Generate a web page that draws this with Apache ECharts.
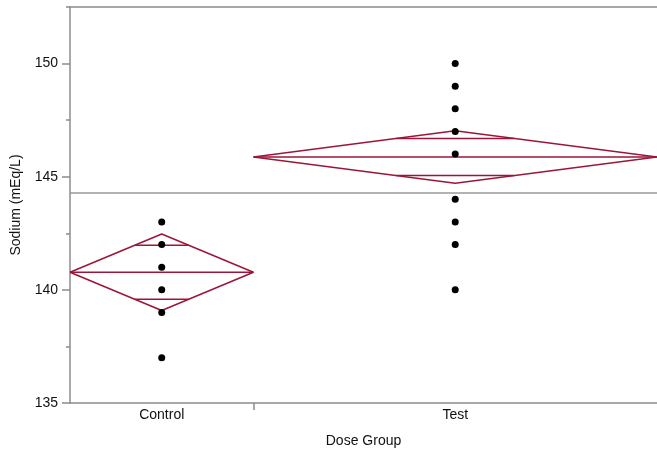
<!DOCTYPE html>
<html>
<head>
<meta charset="utf-8">
<script src="https://cdn.jsdelivr.net/npm/echarts@6/dist/echarts.min.js"></script>
<style>html,body{margin:0;padding:0;background:#fff}#c{width:657px;height:463px}</style>
</head>
<body>
<div id="c"></div>
<script>
// ---- data ----
const groups = ['Control', 'Test'];
const groupN = [10, 22];               // relative diamond widths (sample sizes)
const groupMean = [140.78, 145.87];
const groupCIHalf = [1.69, 1.16];      // 95% CI half-widths (diamond half-heights)
const grandMean = 144.28;
const controlValues = [143, 142, 141, 140, 139, 137];
const testValues = [150, 149, 148, 147, 146, 144, 143, 142, 140];
const groupValues = [controlValues, testValues];
const yMajorTicks = [135, 140, 145, 150];
const yMinorTicks = [137.5, 142.5, 147.5, 152.5];
const yMin = 135, yMax = 152.5;

// ---- build series ----
const RED = '#9b1638';
const GRAY = '#8c8c8c';
const font = 'Liberation Sans, Arial, Helvetica, sans-serif';
const totalN = groupN.reduce((a, b) => a + b, 0);
const starts = [];
let acc = 0;
groupN.forEach(n => { starts.push(acc); acc += n; });
const centers = groupN.map((n, i) => starts[i] + n / 2);

const series = [];
function line(data, color, width) {
  series.push({
    type: 'line', data: data, symbol: 'none', silent: true,
    lineStyle: { color: color, width: width }, animation: false, z: 3
  });
}
// grand mean line
line([[0, grandMean], [totalN, grandMean]], '#999999', 1.5);
groups.forEach((g, i) => {
  const x0 = starts[i], x1 = starts[i] + groupN[i], xc = centers[i];
  const m = groupMean[i], h = groupCIHalf[i];
  // diamond
  line([[x0, m], [xc, m + h], [x1, m], [xc, m - h], [x0, m]], RED, 1.5);
  // mean line
  line([[x0, m], [x1, m]], RED, 1.5);
  // overlap marks at m +/- h/sqrt(2)
  const d = h / Math.SQRT2;
  const half = (groupN[i] / 2) * (1 - d / h);
  line([[xc - half, m + d], [xc + half, m + d]], RED, 1.5);
  line([[xc - half, m - d], [xc + half, m - d]], RED, 1.5);
  // points
  series.push({
    type: 'scatter', data: groupValues[i].map(v => [xc, v]),
    symbol: 'circle', symbolSize: 7, itemStyle: { color: '#000', opacity: 1 },
    animation: false, z: 5
  });
});

const chart = echarts.init(document.getElementById('c'), null, { renderer: 'canvas' });
chart.setOption({
  animation: false,
  backgroundColor: '#fff',
  grid: { left: 70, right: 0, top: 7, bottom: 60, containLabel: false },
  xAxis: [{
    type: 'value', min: 0, max: totalN, position: 'bottom',
    name: 'Dose Group', nameLocation: 'middle', nameGap: 31,
    nameTextStyle: { fontFamily: font, fontSize: 14, color: '#111' },
    axisLine: { show: true, lineStyle: { color: GRAY, width: 1.5 } },
    axisTick: { show: true, customValues: [starts[1]], length: 7, lineStyle: { color: GRAY, width: 1.5 } },
    axisLabel: {
      show: true, customValues: centers, margin: 5,
      fontFamily: font, fontSize: 14, color: '#111',
      formatter: v => { const k = centers.indexOf(v); return k >= 0 ? groups[k] : ''; }
    },
    splitLine: { show: false }
  }, {
    type: 'value', min: 0, max: totalN, position: 'top',
    axisLine: { show: true, lineStyle: { color: GRAY, width: 1.5 } },
    axisTick: { show: false }, axisLabel: { show: false }, splitLine: { show: false }
  }],
  yAxis: [{
    type: 'value', min: yMin, max: yMax, position: 'left',
    name: 'Sodium (mEq/L)', nameLocation: 'middle', nameGap: 47,
    nameTextStyle: { fontFamily: font, fontSize: 14, color: '#111' },
    axisLine: { show: true, lineStyle: { color: GRAY, width: 1.5 } },
    axisTick: { show: true, customValues: yMajorTicks, length: 8, lineStyle: { color: GRAY, width: 1.5 } },
    axisLabel: { show: true, customValues: yMajorTicks, margin: 12, fontFamily: font, fontSize: 14, color: '#111' },
    splitLine: { show: false }
  }, {
    type: 'value', min: yMin, max: yMax, position: 'left', offset: 0,
    axisLine: { show: false },
    axisTick: { show: true, customValues: yMinorTicks, length: 4, lineStyle: { color: GRAY, width: 1.5 } },
    axisLabel: { show: false }, splitLine: { show: false }
  }],
  series: series
});
</script>
</body>
</html>
